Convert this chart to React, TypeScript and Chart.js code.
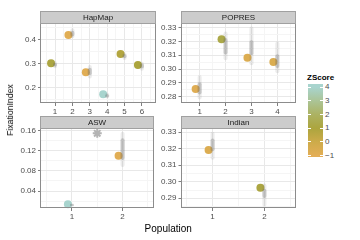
import React, { useEffect, useRef } from 'react';
import { Chart, registerables } from 'chart.js';

Chart.register(...registerables);

const FONT = '"Liberation Sans", Arial, Helvetica, sans-serif';

// ---------------- HapMap ----------------
const hapmapTitle = 'HapMap';
const hapmapPops = [1, 2, 3, 4, 5, 6];
const hapmapPopLabels = ['1', '2', '3', '4', '5', '6'];
const hapmapFst = [0.300, 0.418, 0.2625, 0.171, 0.339, 0.293];
const hapmapZ = [1.1, -0.9, -0.9, 4.0, 0.8, 1.0];
const hapmapNullMin = [0.279, 0.404, 0.237, 0.153, 0.314, 0.269];
const hapmapNullMax = [0.309, 0.446, 0.293, 0.177, 0.345, 0.307];
const hapmapNullLow = [0.286, 0.412, 0.250, 0.158, 0.321, 0.278];
const hapmapNullHigh = [0.301, 0.436, 0.281, 0.171, 0.339, 0.299];
const hapmapYTicks = [0.2, 0.3, 0.4];
const hapmapYLabels = ['0.2', '0.3', '0.4'];
const hapmapYRange = [0.1346, 0.4638];
const hapmapXRange = [0.19, 6.81];

// ---------------- POPRES ----------------
const popresTitle = 'POPRES';
const popresPops = [1, 2, 3, 4];
const popresPopLabels = ['1', '2', '3', '4'];
const popresFst = [0.2856, 0.3217, 0.3083, 0.3051];
const popresZ = [-0.8, 1.3, -0.7, -0.6];
const popresNullMin = [0.278, 0.3064, 0.3028, 0.297];
const popresNullMax = [0.2957, 0.3272, 0.3308, 0.320];
const popresNullLow = [0.2815, 0.3105, 0.3100, 0.3008];
const popresNullHigh = [0.2905, 0.3225, 0.3210, 0.3108];
const popresYTicks = [0.28, 0.29, 0.30, 0.31, 0.32, 0.33];
const popresYLabels = ['0.28', '0.29', '0.30', '0.31', '0.32', '0.33'];
const popresYRange = [0.2754, 0.3327];
const popresXRange = [0.3, 4.7];

// ---------------- ASW ----------------
const aswTitle = 'ASW';
const aswPops = [1, 2];
const aswPopLabels = ['1', '2'];
const aswFst = [0.0135, 0.110];
const aswZ = [4.2, -0.9];
const aswNullMin = [0.0088, 0.088];
const aswNullMax = [0.0155, 0.158];
const aswNullLow = [0.0103, 0.1015];
const aswNullHigh = [0.0140, 0.145];
const aswYTicks = [0.04, 0.08, 0.12, 0.16];
const aswYLabels = ['0.04', '0.08', '0.12', '0.16'];
const aswYRange = [0.0062, 0.1644];
const aswXRange = [0.39, 2.61];
const aswSignifX = [1.5];
const aswSignifY = [0.1548];

// ---------------- Indian ----------------
const indianTitle = 'Indian';
const indianPops = [1, 2];
const indianPopLabels = ['1', '2'];
const indianFst = [0.3192, 0.2964];
const indianZ = [-0.7, 1.1];
const indianNullMin = [0.3133, 0.2848];
const indianNullMax = [0.3304, 0.299];
const indianNullLow = [0.3185, 0.2902];
const indianNullHigh = [0.3262, 0.2958];
const indianYTicks = [0.29, 0.30, 0.31, 0.32, 0.33];
const indianYLabels = ['0.29', '0.30', '0.31', '0.32', '0.33'];
const indianYRange = [0.2841, 0.3323];
const indianXRange = [0.4, 2.6];

// ---------------- Legend ----------------
const zBreaks = [-1, 0, 1, 2, 3, 4];
const zBreakLabels = ['\u22121', '0', '1', '2', '3', '4'];
const zLegendRange = [-1.1, 4.24];

// colour scale (style)
const Z_STOPS = [-1, 0, 1, 2, 3, 4];
const Z_COLORS = [
  [227, 174, 86],
  [205, 171, 74],
  [172, 165, 62],
  [172, 178, 98],
  [171, 196, 150],
  [168, 212, 206],
];

function zColor(z: number) {
  if (z <= Z_STOPS[0]) return `rgb(${Z_COLORS[0].join(',')})`;
  const n = Z_STOPS.length;
  if (z >= Z_STOPS[n - 1]) return `rgb(${Z_COLORS[n - 1].join(',')})`;
  let i = 0;
  while (z > Z_STOPS[i + 1]) i++;
  const t = (z - Z_STOPS[i]) / (Z_STOPS[i + 1] - Z_STOPS[i]);
  const c = Z_COLORS[i].map((v, k) => Math.round(v + (Z_COLORS[i + 1][k] - v) * t));
  return `rgb(${c.join(',')})`;
}

type Spec = {
  title: string;
  pops: number[];
  popLabels: string[];
  fst: number[];
  z: number[];
  nMin: number[];
  nMax: number[];
  nLow: number[];
  nHigh: number[];
  yTicks: number[];
  yLabels: string[];
  yRange: number[];
  xRange: number[];
  sigX?: number[];
  sigY?: number[];
};

const specs: Spec[] = [
  { title: hapmapTitle, pops: hapmapPops, popLabels: hapmapPopLabels, fst: hapmapFst, z: hapmapZ, nMin: hapmapNullMin, nMax: hapmapNullMax, nLow: hapmapNullLow, nHigh: hapmapNullHigh, yTicks: hapmapYTicks, yLabels: hapmapYLabels, yRange: hapmapYRange, xRange: hapmapXRange },
  { title: popresTitle, pops: popresPops, popLabels: popresPopLabels, fst: popresFst, z: popresZ, nMin: popresNullMin, nMax: popresNullMax, nLow: popresNullLow, nHigh: popresNullHigh, yTicks: popresYTicks, yLabels: popresYLabels, yRange: popresYRange, xRange: popresXRange },
  { title: aswTitle, pops: aswPops, popLabels: aswPopLabels, fst: aswFst, z: aswZ, nMin: aswNullMin, nMax: aswNullMax, nLow: aswNullLow, nHigh: aswNullHigh, yTicks: aswYTicks, yLabels: aswYLabels, yRange: aswYRange, xRange: aswXRange, sigX: aswSignifX, sigY: aswSignifY },
  { title: indianTitle, pops: indianPops, popLabels: indianPopLabels, fst: indianFst, z: indianZ, nMin: indianNullMin, nMax: indianNullMax, nLow: indianNullLow, nHigh: indianNullHigh, yTicks: indianYTicks, yLabels: indianYLabels, yRange: indianYRange, xRange: indianXRange },
];

type Box = { x: number; y: number; w: number; h: number; yw: number; xh: number; padTop: number; padRight: number; stripH: number };

const boxes: Box[] = [
  { x: 0, y: 0, w: 160, h: 116, yw: 41, xh: 13, padTop: 24, padRight: 3.5, stripH: 11.7 },
  { x: 160, y: 0, w: 140, h: 116, yw: 21.5, xh: 13, padTop: 24, padRight: 4.5, stripH: 11.7 },
  { x: 0, y: 116, w: 160, h: 112, yw: 41, xh: 20, padTop: 12.5, padRight: 3.5, stripH: 11.5 },
  { x: 160, y: 116, w: 140, h: 112, yw: 21.5, xh: 20, padTop: 12.5, padRight: 4.5, stripH: 11.5 },
];

const MAJOR = '#e8e8e8';
const MINOR = '#f5f5f5';
const BORDER = '#8c8c8c';

function tickList(majors: number[], labels: string[], min: number, max: number) {
  const step = majors.length > 1 ? majors[1] - majors[0] : 1;
  const out: any[] = [];
  const before = majors[0] - step / 2;
  if (before >= min) out.push({ value: before, minor: true, lab: '' });
  majors.forEach((m, i) => {
    out.push({ value: m, minor: false, lab: labels[i] });
    const after = m + step / 2;
    if (after <= max) out.push({ value: after, minor: true, lab: '' });
  });
  return out;
}

const deco = {
  id: 'deco',
  beforeDatasetDraw(chart: any, args: any) {
    const ds = chart.data.datasets[args.index];
    if (ds.nudgeX) {
      chart.ctx.save();
      chart.ctx.translate(ds.nudgeX, 0);
    }
  },
  afterDatasetDraw(chart: any, args: any) {
    const ds = chart.data.datasets[args.index];
    if (ds.nudgeX) chart.ctx.restore();
  },
  afterDraw(chart: any, _args: any, opts: any) {
    const { ctx, chartArea: a } = chart;
    const l = Math.round(a.left) - 0.5;
    const r = Math.round(a.right) - 0.5;
    const t = Math.round(a.top) - 0.5;
    const b = Math.round(a.bottom) - 0.5;
    ctx.save();
    ctx.lineWidth = 1;
    ctx.strokeStyle = BORDER;
    ctx.strokeRect(l, t, r - l, b - t);
    const st = Math.round(a.top - opts.stripH) - 0.5;
    ctx.fillStyle = '#cccccc';
    ctx.fillRect(l, st, r - l, t - st);
    ctx.strokeStyle = '#a0a0a0';
    ctx.strokeRect(l, st, r - l, t - st);
    ctx.fillStyle = '#1a1a1a';
    ctx.font = `8px ${FONT}`;
    ctx.textAlign = 'center';
    ctx.textBaseline = 'middle';
    ctx.fillText(opts.title, (l + r) / 2, (st + t) / 2 + 0.5);
    ctx.restore();
  },
};

function axis(ticks: any[], min: number, max: number, fit: (s: any) => void, pad: number) {
  return {
    type: 'linear',
    min,
    max,
    offset: false,
    grid: {
      offset: false,
      color: (c: any) => (c.tick && c.tick.minor ? MINOR : MAJOR),
      lineWidth: 1,
      drawTicks: true,
      tickLength: 3,
      tickColor: (c: any) => (c.tick && c.tick.minor ? 'rgba(0,0,0,0)' : '#7f7f7f'),
      tickWidth: 1,
    },
    border: { display: false },
    afterBuildTicks: (s: any) => {
      s.ticks = ticks.map((t) => ({ ...t }));
    },
    afterFit: fit,
    ticks: {
      autoSkip: false,
      maxRotation: 0,
      minRotation: 0,
      padding: pad,
      font: { family: FONT, size: 8 },
      color: '#4d4d4d',
      callback: (_v: any, i: number, arr: any[]) => (arr[i] && arr[i].lab) || '',
    },
  };
}

function Panel({ spec, box }: { spec: Spec; box: Box }) {
  const ref = useRef<HTMLCanvasElement>(null);
  useEffect(() => {
    const greyBars = (lo: number[], hi: number[], alpha: number) => ({
      type: 'bar',
      data: spec.pops.map((x, i) => ({ x, y: [lo[i], hi[i]] })),
      backgroundColor: `rgba(110,110,110,${alpha})`,
      borderWidth: 0,
      borderRadius: 2,
      borderSkipped: false,
      grouped: false,
      maxBarThickness: 4,
      clip: false,
    });
    const datasets: any[] = [];
    if (spec.sigX && spec.sigY) {
      datasets.push({
        type: 'scatter',
        data: spec.sigX.map((x, i) => ({ x, y: spec.sigY![i] })),
        pointStyle: 'star',
        pointRadius: 4.5,
        pointBorderColor: '#b3b3b3',
        pointBorderWidth: 2,
        pointBackgroundColor: 'rgba(0,0,0,0)',
        clip: false,
      });
    }
    datasets.push(greyBars(spec.nLow, spec.nHigh, 0.3));
    datasets.push(greyBars(spec.nMin, spec.nMax, 0.13));
    datasets.push({
      type: 'scatter',
      data: spec.pops.map((x, i) => ({ x, y: spec.fst[i] })),
      pointRadius: 4,
      pointBackgroundColor: spec.z.map(zColor),
      pointBorderWidth: 0,
      pointBorderColor: 'rgba(0,0,0,0)',
      nudgeX: -4,
      clip: false,
    });
    const xt = tickList(spec.pops, spec.popLabels, spec.xRange[0], spec.xRange[1]);
    const yt = tickList(spec.yTicks, spec.yLabels, spec.yRange[0], spec.yRange[1]);
    const chart = new Chart(ref.current as HTMLCanvasElement, {
      type: 'bar',
      data: { datasets },
      plugins: [deco],
      options: {
        animation: false,
        responsive: false,
        maintainAspectRatio: false,
        events: [],
        layout: { padding: { left: 0, top: box.padTop, right: box.padRight, bottom: 0 } },
        plugins: {
          legend: { display: false },
          tooltip: { enabled: false },
          deco: { title: spec.title, stripH: box.stripH },
        } as any,
        scales: {
          x: axis(xt, spec.xRange[0], spec.xRange[1], (s: any) => { s.height = box.xh; }, 1),
          y: axis(yt, spec.yRange[0], spec.yRange[1], (s: any) => { s.width = box.yw; }, 2),
        } as any,
      },
    } as any);
    return () => chart.destroy();
  }, []);
  return (
    <canvas
      ref={ref}
      width={box.w}
      height={box.h}
      style={{ position: 'absolute', left: box.x, top: box.y, width: box.w, height: box.h }}
    />
  );
}

function Legend() {
  const barTop = 84;
  const barH = 73;
  const barL = 307.5;
  const barW = 15;
  const [zBot, zTop] = zLegendRange;
  const yOf = (z: number) => barTop + ((zTop - z) / (zTop - zBot)) * barH;
  const pct = (z: number) => ((z - zBot) / (zTop - zBot)) * 100;
  const stops = [`${zColor(zBot)} 0%`, ...Z_STOPS.map((z) => `${zColor(z)} ${pct(z).toFixed(2)}%`), `${zColor(zTop)} 100%`];
  return (
    <>
      <div style={{ position: 'absolute', left: 307, top: 73, font: `bold 8px ${FONT}`, lineHeight: '10px', color: '#000', whiteSpace: 'nowrap' }}>ZScore</div>
      <div style={{ position: 'absolute', left: barL, top: barTop, width: barW, height: barH, background: `linear-gradient(to top, ${stops.join(', ')})` }} />
      {zBreaks.map((z, i) => (
        <React.Fragment key={i}>
          <div style={{ position: 'absolute', left: barL, top: yOf(z) - 0.5, width: 3, height: 1, background: '#fff' }} />
          <div style={{ position: 'absolute', left: barL + barW - 3, top: yOf(z) - 0.5, width: 3, height: 1, background: '#fff' }} />
          <div style={{ position: 'absolute', left: 325, top: yOf(z) - 5, font: `8px ${FONT}`, lineHeight: '10px', color: '#4d4d4d', whiteSpace: 'nowrap' }}>{zBreakLabels[i]}</div>
        </React.Fragment>
      ))}
    </>
  );
}

export default function App() {
  return (
    <div style={{ position: 'absolute', left: 0, top: 0, width: 360, height: 240, background: '#fff', overflow: 'hidden' }}>
      {specs.map((s, i) => (
        <Panel key={i} spec={s} box={boxes[i]} />
      ))}
      <div style={{ position: 'absolute', left: 168.25, top: 228, transform: 'translate(-50%, -50%)', font: `10px ${FONT}`, color: '#000', whiteSpace: 'nowrap' }}>Population</div>
      <div style={{ position: 'absolute', left: 10, top: 110, transform: 'translate(-50%, -50%) rotate(-90deg)', font: `8.7px ${FONT}`, color: '#000', whiteSpace: 'nowrap' }}>FixationIndex</div>
      <Legend />
    </div>
  );
}
